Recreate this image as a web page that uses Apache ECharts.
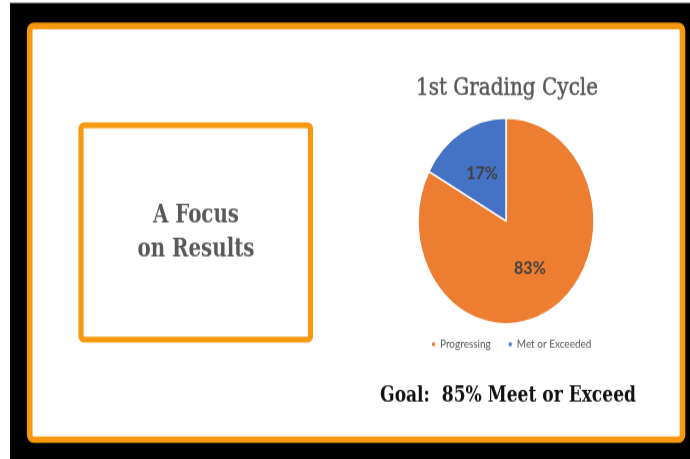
<!DOCTYPE html>
<html>
<head>
<meta charset="utf-8">
<script src="https://cdn.jsdelivr.net/npm/echarts@6/dist/echarts.min.js"></script>
<style>
  html, body { margin: 0; padding: 0; background: #ffffff; width: 690px; height: 459px; overflow: hidden; }
  #page { width: 690px; height: 459px; overflow: visible; }
  /* slide is laid out at 690x392 and stretched to fill the 459px tall window */
  #chart { width: 690px; height: 392px; transform: scaleY(1.1709); transform-origin: 0 0; }
</style>
</head>
<body>
<div id="page"><div id="chart"></div></div>
<script>
// Grading results for the first cycle
const categories = ['Progressing', 'Met or Exceeded'];
const shares = [83, 17];
const chartTitle = '1st Grading Cycle';
const sideHeading = ['A Focus', 'on Results'];
const goalText = 'Goal:  85% Meet or Exceed';

const palette = ['#ED7D31', '#4472C4'];
const frameOrange = '#F7990F';

const chart = echarts.init(document.getElementById('chart'), null, { renderer: 'canvas' });

chart.setOption({
  backgroundColor: '#ffffff',
  animation: false,
  color: palette,
  title: {
    text: chartTitle,
    left: 502,
    top: 61,
    textAlign: 'center',
    textStyle: {
      fontFamily: 'DejaVu Serif',
      fontWeight: 'normal',
      fontSize: 20,
      color: '#555555',
      textBorderColor: '#555555',
      textBorderWidth: 0.4
    }
  },
  legend: {
    data: categories,
    left: 425,
    top: 284,
    icon: 'rect',
    itemWidth: 5,
    itemHeight: 5,
    itemGap: 16,
    selectedMode: false,
    textStyle: { fontFamily: 'Lato', fontSize: 10, color: '#595959', padding: [0, 0, 0, -1] }
  },
  graphic: [
    {
      type: 'rect', z: -10, silent: true,
      shape: { x: 10, y: 2.6, width: 680, height: 392 },
      style: { fill: '#000000' }
    },
    {
      type: 'rect', z: -9, silent: true,
      shape: { x: 29.7, y: 22.1, width: 652.8, height: 353.4, r: 4 },
      style: { fill: '#ffffff', stroke: frameOrange, lineWidth: 5.6 }
    },
    {
      type: 'rect', z: -8, silent: true,
      shape: { x: 81, y: 107, width: 229.5, height: 183, r: 3 },
      style: { fill: '#ffffff', stroke: frameOrange, lineWidth: 5.2 }
    },
    {
      type: 'text', z: 5, silent: true,
      x: 196, y: 199,
      style: {
        text: sideHeading.join('\n'),
        align: 'center', verticalAlign: 'middle',
        lineHeight: 29,
        font: 'bold 22px "DejaVu Serif Condensed"',
        fill: '#595959'
      }
    },
    {
      type: 'text', z: 5, silent: true,
      x: 508, y: 338,
      style: {
        text: goalText,
        align: 'center', verticalAlign: 'middle',
        font: 'bold 19px "DejaVu Serif Condensed"',
        fill: '#111111'
      }
    }
  ],
  series: [
    {
      type: 'pie',
      center: [506, 188.7],
      radius: 88,
      startAngle: 90,
      clockwise: true,
      silent: true,
      itemStyle: { borderColor: '#ffffff', borderWidth: 1.5 },
      label: {
        show: true,
        position: 'inside',
        formatter: '{c}%',
        fontFamily: 'Lato',
        fontWeight: 'bold',
        fontSize: 16,
        color: '#404040'
      },
      labelLine: { show: false },
      data: categories.map((name, i) => ({ name: name, value: shares[i] }))
    }
  ]
});
</script>
</body>
</html>
